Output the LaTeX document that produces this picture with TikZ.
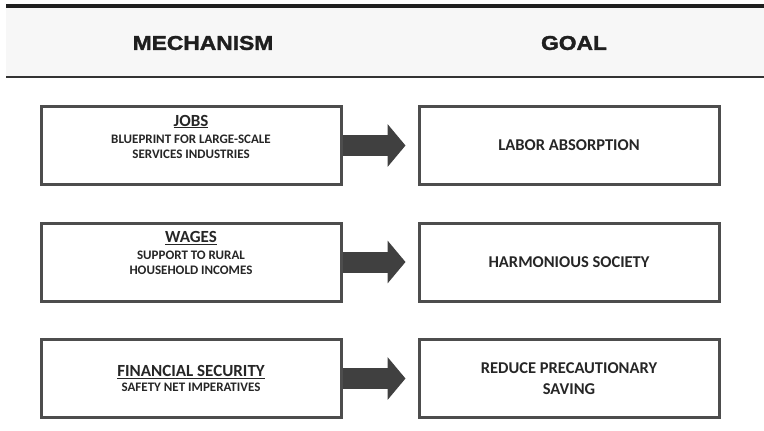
\documentclass[tikz,border=0pt]{standalone}
\usepackage{fontspec}
\setmainfont{Carlito}
\newfontfamily\headfont[BoldFeatures={FakeBold=1.6}]{Liberation Sans}
\usetikzlibrary{positioning}
\usetikzlibrary{arrows.meta}
\definecolor{bordo}{HTML}{4D4D4D}
\definecolor{freccia}{HTML}{404040}
\definecolor{fascia}{HTML}{F7F7F7}

\begin{document}
\begin{tikzpicture}[x=1pt,y=-1pt,align=center,node distance=35.5pt,
titolo/.style={font=\headfont\bfseries\fontsize{20}{24}\selectfont,xscale=1.14,text=black!88},
meccanismo/.style={draw=bordo,line width=3pt,fill=white,minimum width=300pt,minimum height=78pt,inner sep=0pt,font=\bfseries\fontsize{13}{15}\selectfont,text=black!85},
obiettivo/.style={meccanismo,font=\bfseries\fontsize{16.5}{21}\selectfont},
freccia/.style={draw=freccia,line width=21pt,-{Triangle[length=18pt,width=42pt]},shorten >=12pt}
]
\useasboundingbox (0,0) rectangle (764,431);
% intestazione
\fill[fascia] (6,8) rectangle (764,76);
\draw[line width=4pt,black!88] (6,6) -- (764,6);
\draw[line width=2pt,black!80] (6,77) -- (764,77);
\node[titolo] (tm) at (203,43) {MECHANISM};
\node[titolo] (tg) at (574,43) {GOAL};
%--
\node[meccanismo] (m1) at (191,145.5) {{\fontsize{17}{21}\selectfont\underline{JOBS}}\\[2pt]BLUEPRINT FOR LARGE-SCALE\\SERVICES INDUSTRIES\\[3pt]};
\node[obiettivo,right=75pt of m1] (g1) {LABOR ABSORPTION};
\draw[freccia] (m1.east) -- (g1.west);
%--
\node[meccanismo,below=of m1] (m2) {{\fontsize{17}{21}\selectfont\underline{WAGES}}\\[2pt]SUPPORT TO RURAL\\HOUSEHOLD INCOMES\\[3pt]};
\node[obiettivo,right=75pt of m2] (g2) {HARMONIOUS SOCIETY};
\draw[freccia] (m2.east) -- (g2.west);
%--
\node[meccanismo,below=of m2] (m3) {{\fontsize{17}{21}\selectfont\underline{FINANCIAL SECURITY}}\\[0pt]SAFETY NET IMPERATIVES};
\node[obiettivo,right=75pt of m3] (g3) {REDUCE PRECAUTIONARY\\SAVING};
\draw[freccia] (m3.east) -- (g3.west);
\end{tikzpicture}
\end{document}
